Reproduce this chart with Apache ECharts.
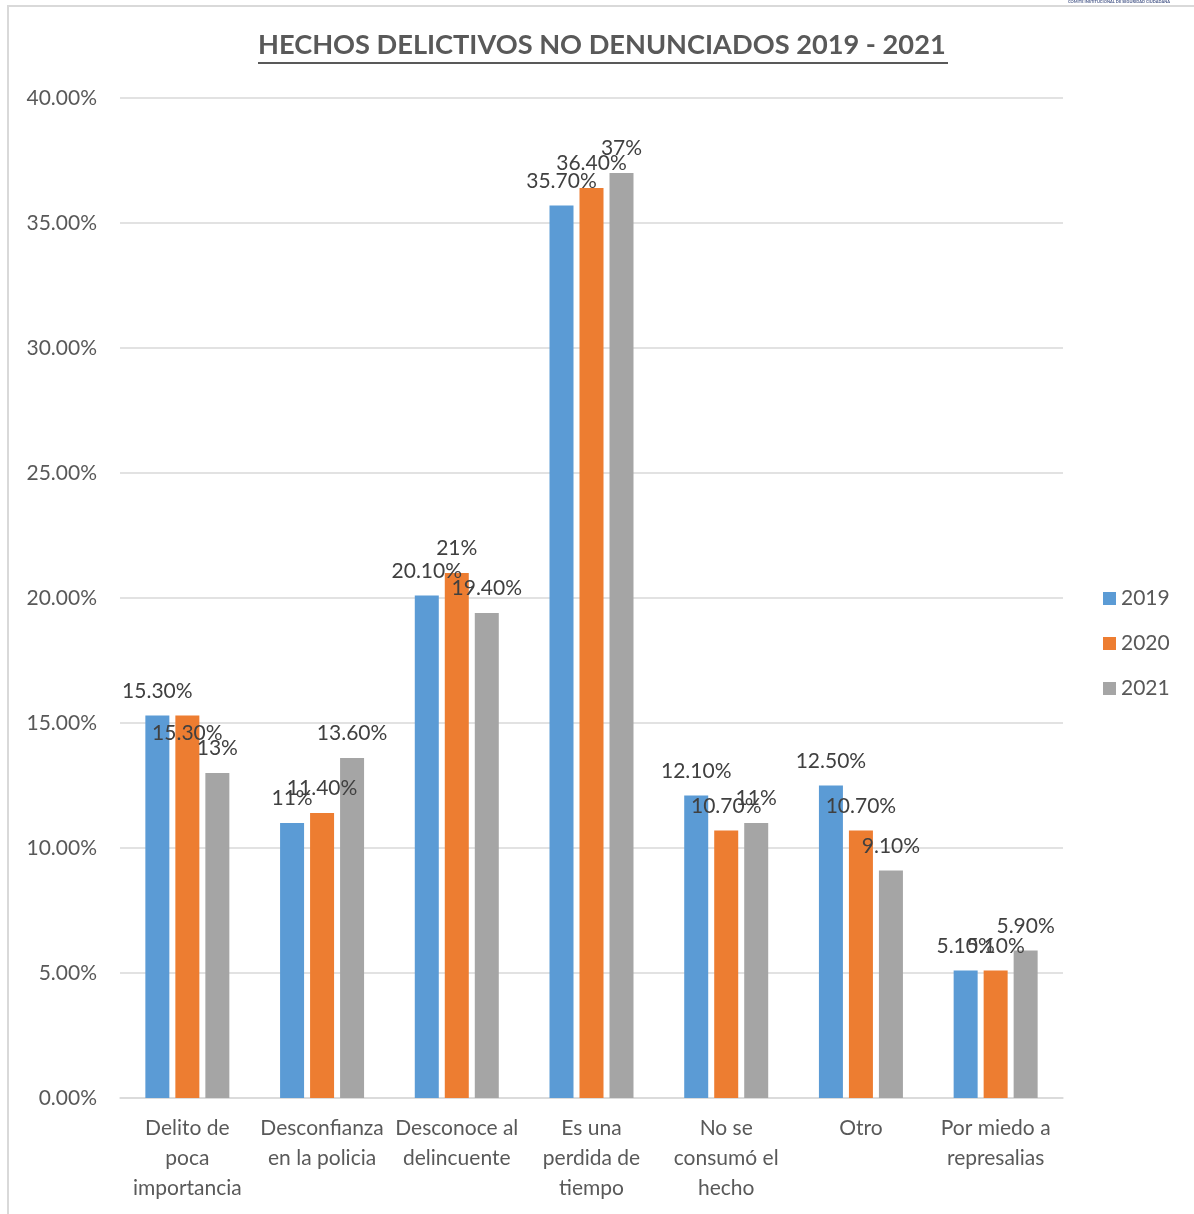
<!DOCTYPE html>
<html>
<head>
<meta charset="utf-8">
<script src="https://cdn.jsdelivr.net/npm/echarts@6/dist/echarts.min.js"></script>
<style>
  html, body { margin: 0; padding: 0; background: #fff; }
  #chart { width: 1194px; height: 1214px; }
</style>
</head>
<body>
<div id="chart"></div>
<script>
// categorias (con saltos de linea como en el original)
var categorias = [
  'Delito de\npoca\nimportancia',
  'Desconfianza\nen la policia',
  'Desconoce al\ndelincuente',
  'Es una\nperdida de\ntiempo',
  'No se\nconsumó el\nhecho',
  'Otro',
  'Por miedo a\nrepresalias'
];
var anios = ['2019', '2020', '2021'];

// valores en %
var v2019 = [15.3, 11, 20.1, 35.7, 12.1, 12.5, 5.1];
var v2020 = [15.3, 11.4, 21, 36.4, 10.7, 10.7, 5.1];
var v2021 = [13, 13.6, 19.4, 37, 11, 9.1, 5.9];

// etiquetas tal cual aparecen
var et2019 = ['15.30%', '11%', '20.10%', '35.70%', '12.10%', '12.50%', '5.10%'];
var et2020 = ['15.30%', '11.40%', '21%', '36.40%', '10.70%', '10.70%', '5.10%'];
var et2021 = ['13%', '13.60%', '19.40%', '37%', '11%', '9.10%', '5.90%'];

var colores = ['#5b9bd5', '#ed7d31', '#a5a5a5'];
var fuente = 'Lato, "Open Sans", sans-serif';

function armarSerie(nombre, valores, etiquetas) {
  var datos = [];
  for (var i = 0; i < valores.length; i++) {
    var d = { value: valores[i] };
    // etiqueta movida a mano en el original (2020, primera categoria)
    if (nombre === '2020' && i === 0) {
      d.label = { offset: [0, 42] };
    }
    datos.push(d);
  }
  return {
    name: nombre,
    type: 'bar',
    data: datos,
    barWidth: 24,
    barGap: '25%',
    label: {
      show: true,
      position: 'top',
      distance: 14,
      color: '#404040',
      fontFamily: fuente,
      fontSize: 21,
      formatter: function (p) { return etiquetas[p.dataIndex]; }
    }
  };
}

var myChart = echarts.init(document.getElementById('chart'));
var option = {
  backgroundColor: '#fff',
  animation: false,
  color: colores,
  textStyle: { fontFamily: fuente },
  grid: { left: 120, right: 131, top: 98, bottom: 116, containLabel: false },
  legend: {
    data: anios,
    orient: 'vertical',
    left: 1103,
    top: 588,
    padding: 0,
    itemWidth: 13,
    itemHeight: 13,
    itemGap: 24,
    icon: 'rect',
    textStyle: { color: '#595959', fontSize: 21, fontFamily: fuente }
  },
  xAxis: {
    type: 'category',
    data: categorias,
    axisTick: { show: false },
    axisLine: { lineStyle: { color: '#d9d9d9', width: 1.5 } },
    axisLabel: {
      interval: 0,
      margin: 15,
      color: '#595959',
      fontSize: 21,
      lineHeight: 30,
      fontFamily: fuente
    }
  },
  yAxis: {
    type: 'value',
    min: 0,
    max: 40,
    interval: 5,
    axisLine: { show: false },
    axisTick: { show: false },
    splitLine: { lineStyle: { color: '#d9d9d9', width: 1.5 } },
    axisLabel: {
      margin: 23,
      color: '#595959',
      fontSize: 21,
      fontFamily: fuente,
      formatter: function (v) { return v.toFixed(2) + '%'; }
    }
  },
  graphic: [
    {
      type: 'text',
      left: 258,
      top: 32,
      style: {
        text: 'HECHOS DELICTIVOS NO DENUNCIADOS 2019 - 2021',
        fill: '#595959',
        font: 'bold 27.2px ' + fuente
      }
    },
    {
      type: 'line',
      shape: { x1: 258, y1: 63, x2: 948, y2: 63 },
      style: { stroke: '#595959', lineWidth: 2 }
    },
    {
      type: 'polyline',
      shape: { points: [[8, 1214], [8, 6], [1194, 6]] },
      style: { stroke: '#d9d9d9', lineWidth: 2, fill: null }
    },
    {
      type: 'text',
      left: 1068,
      top: 0,
      style: {
        text: 'COMITÉ INSTITUCIONAL DE SEGURIDAD CIUDADANA',
        fill: '#4a5a8a',
        font: 'bold 4px ' + fuente
      }
    }
  ],
  series: [
    armarSerie('2019', v2019, et2019),
    armarSerie('2020', v2020, et2020),
    armarSerie('2021', v2021, et2021)
  ]
};
myChart.setOption(option);
</script>
</body>
</html>
